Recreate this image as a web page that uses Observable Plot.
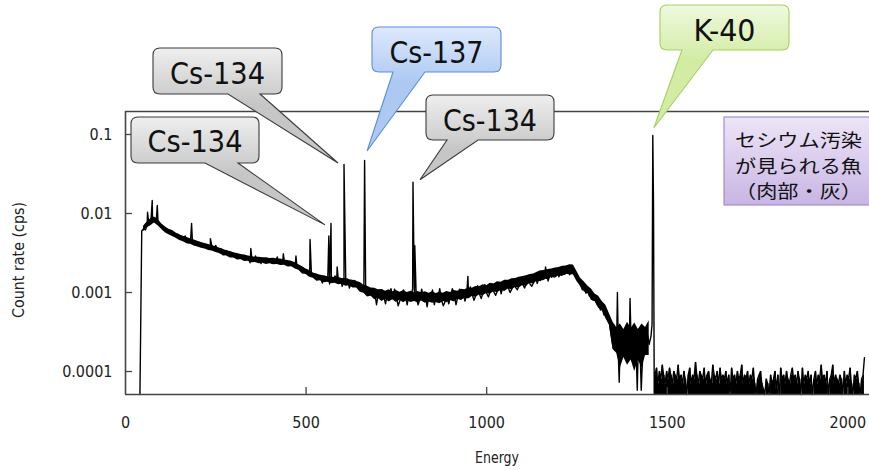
<!DOCTYPE html>
<html><head><meta charset="utf-8">
<script src="https://cdn.jsdelivr.net/npm/d3@7"></script>
<script src="https://cdn.jsdelivr.net/npm/@observablehq/plot@0.6"></script>
<style>
body{margin:0;background:#fff}
#chart{position:relative;width:869px;height:470px;overflow:hidden}
</style>
</head><body><div id="chart"></div>
<script>
// ---------- DATA ----------
const xTicks = [0, 500, 1000, 1500, 2000];
const xTickLabels = ["0", "500", "1000", "1500", "2000"];
const yTicks = [0.0001, 0.001, 0.01, 0.1];
const yTickLabels = ["0.0001", "0.001", "0.01", "0.1"];
const xTitle = "Energy";
const yTitle = "Count rate (cps)";

// continuum channels: energy start / step (keV), counts in units of 1e-5 cps
const contStartE = 40, contStepE = 5;
const contE5 = [
  0,600,640,620,700,720,760,800,830,790,
  800,720,700,620,660,600,600,545,590,540,
  520,545,490,500,460,520,450,425,445,470,
  420,400,415,430,385,372,405,365,380,352,
  372,345,395,334,330,355,300,305,340,298,
  312,286,300,280,284,296,270,268,286,262,
  274,238,268,250,290,246,272,232,262,268,
  258,242,256,238,254,236,282,234,248,232,
  244,228,242,224,234,218,222,206,208,194,
  196,180,184,168,174,160,164,154,158,150,
  150,132,160,142,146,128,152,138,162,148,
  132,150,120,140,128,148,114,136,122,142,
  124,118,126,104,116,106,102,96,104,92,
  100,70,97,85,108,90,72,98,86,112,
  84,110,87,68,80,95,108,90,70,96,
  85,112,80,88,70,82,110,84,96,66,
  90,82,108,70,88,86,112,80,68,77,
  92,72,90,112,95,70,88,110,84,96,
  78,99,88,118,94,80,92,122,96,84,
  100,126,98,88,104,128,102,92,106,134,
  96,120,110,140,114,100,112,146,116,108,
  124,154,126,114,130,160,128,120,134,168,
  130,154,176,146,150,184,140,166,156,192,
  164,200,158,182,210,170,176,214,168,194,
  186,176,152,136,124,108,116,98,106,90,
  90,80,84,72,70,60,62,52,55,44,
  40,28,20,30,24,14,26,17,28,15,
  30,22,22,15,30,12,24,17,10,26,
  20,30,22,28
];

// noise band: every 10 keV from 50 keV, low / high edge (1e-5 cps)
const bandStartE = 50, bandStepE = 10;
const bandLowE5 = [
  590,660,700,760,700,630,570,540,510,485,
  455,440,415,408,388,378,362,356,340,336,
  322,312,294,290,274,274,258,259,247,248,
  238,240,231,234,227,231,224,227,219,221,
  211,212,198,191,172,169,156,152,139,141,
  133,135,129,131,125,127,120,122,114,114,
  101,98,88,90,81,84,77,82,76,81,
  75,80,74,79,75,77,74,78,73,76,
  73,75,72,77,74,79,76,82,79,85,
  83,89,87,93,91,97,95,102,99,106,
  103,111,108,116,114,123,119,131,128,140,
  137,148,145,156,152,163,159,171,167,168,
  138,120,102,97,80,77,63,60,47,39,
  19,17,11,15,12,14,10,14,11,16,
  16
];
const bandHighE5 = [
  690,780,860,900,840,740,680,630,610,565,
  540,515,498,478,462,444,428,416,406,394,
  380,366,352,338,330,318,312,303,298,290,
  284,279,280,275,276,270,271,265,266,258,
  255,249,238,224,212,199,190,177,172,165,
  163,158,158,154,155,150,150,145,143,138,
  134,124,120,114,113,108,109,104,108,102,
  106,101,105,100,104,99,103,99,102,98,
  102,97,101,98,103,100,106,104,110,108,
  115,113,119,118,125,122,131,128,137,135,
  143,143,149,150,156,159,163,169,172,180,
  188,190,196,198,205,208,215,217,224,223,
  185,152,137,121,111,96,90,77,69,54,
  42,36,40,34,42,35,41,34,40,36,
  44
];

// photopeaks and spikes (keV, cps)
const peakE   = [61, 74, 88, 183, 235, 347, 437, 472, 511, 563, 569, 586, 605, 662, 796, 801, 948, 1163, 1362, 1367, 1397, 1417, 1428, 1458, 1460, 1462, 1464];
const peakCps = [0.0104, 0.0146, 0.0126, 0.0075, 0.0048, 0.0036, 0.0031, 0.0029, 0.0047, 0.0052, 0.0075, 0.0021, 0.0417, 0.0469, 0.0249, 0.0039, 0.0016, 0.0021, 0.00100, 0.000073, 0.00084, 0.000058, 0.000058, 0.0004, 0.097, 0.012, 0];

// channels above K-40: start / step (keV), counts in units of 1e-5 cps
const postStartE = 1466, postStepE = 4;
const postE5 = [
  9,11,7,10,8,12,9,7,10,8,11,9,7,10,9,8,
  12,8,9,7,10,8,0,9,11,7,9,8,13,9,7,10,
  9,8,11,7,9,10,8,7,12,9,8,10,7,11,8,9,
  8,10,7,9,0,11,8,9,7,10,8,9,12,7,9,8,
  10,7,9,8,11,7,0,8,9,10,7,6,0,8,7,0,
  9,7,8,10,6,9,0,11,8,9,7,10,8,7,9,11,
  8,9,7,10,8,0,11,7,9,8,10,7,9,0,8,10,
  7,9,8,12,8,9,7,10,0,8,9,12,7,9,8,7,
  9,8,0,10,7,9,8,11,7,0,9,8,10,7,0,8,
  9,15
];

// callouts
const calloutLabels = ["Cs-134", "Cs-134", "Cs-137", "Cs-134", "K-40"];
const calloutE      = [569, 605, 662, 796, 1460];
const calloutCps    = [0.0075, 0.0417, 0.0469, 0.0249, 0.097];
const calloutTheme  = ["gray", "gray", "blue", "gray", "green"];
const legendLines = ["セシウム汚染", "が見られる魚", "（肉部・灰）"];

// ---------- LAYOUT / STYLE ----------
const W = 869, H = 470, mL = 125, mT = 111, mB = 76, mR = 0;
const xDomain = [0, 2060];
const yDomain = [5.12e-5, 0.1954];
const frameColor = "#444";
const narrow = "'Liberation Sans Narrow','DejaVu Sans Condensed','Arial Narrow',sans-serif";
// pixel boxes: [x0,y0,x1,y1, wedgeBase0, wedgeBase1, tipDx, tipDy, textWidth, baseline]
const calloutBoxes = [
  [131,117,259,163, 205,238, -5.5, 2, 95, 152],
  [153, 48,282, 94, 228,260, -5.5,-1, 95,  84],
  [372, 27,501, 72, 393,425,  3,  -9, 94,  63],
  [426, 95,554,140, 447,478,  7.5,-2, 94, 131],
  [660,  5,789, 50, 682,713,  1.5,-7, 62,  41]
];
const themes = {
  gray:  {top:"#efefef", bottom:"#c6c6c6", stroke:"#3a3a3a"},
  blue:  {top:"#dde9fc", bottom:"#adc9f2", stroke:"#5b8ed8"},
  green: {top:"#eff9de", bottom:"#d2eca4", stroke:"#a3d163"}
};

// ---------- BUILD SERIES ----------
const floor = yDomain[0];
const spectrum = [];
contE5.forEach((v, i) => spectrum.push({E: contStartE + i * contStepE, v: v * 1e-5}));
peakE.forEach((e, i) => spectrum.push({E: e, v: peakCps[i]}));
postE5.forEach((v, i) => spectrum.push({E: postStartE + i * postStepE, v: v * 1e-5}));
spectrum.sort((a, b) => a.E - b.E);
spectrum.forEach(d => { d.v = Math.max(d.v, floor); });

const band = bandLowE5.map((lo, i) => ({E: bandStartE + i * bandStepE, lo: lo * 1e-5, hi: bandHighE5[i] * 1e-5}));
const post = postE5.map((v, i) => ({E: postStartE + i * postStepE, v: Math.max(v * 1e-5, floor)}));

const frameW = W - mL - mR, frameH = H - mT - mB;

const plot = Plot.plot({
  width: W, height: H,
  marginLeft: mL, marginTop: mT, marginBottom: mB, marginRight: mR,
  style: {background: "white", fontFamily: narrow, color: "#222", overflow: "visible"},
  x: {domain: xDomain},
  y: {type: "log", domain: yDomain},
  marks: [
    Plot.axisY(yTicks, {tickSize: 0, tickPadding: 13, fontSize: 16, label: null,
      tickFormat: d => yTickLabels[yTicks.indexOf(d)]}),
    Plot.axisX(xTicks, {tickSize: 0, tickPadding: 22, fontSize: 16, label: null,
      tickFormat: d => xTickLabels[xTicks.indexOf(d)]}),
    Plot.areaY(band, {x: "E", y1: "lo", y2: "hi", fill: "black"}),
    Plot.areaY(post, {x: "E", y1: floor, y2: "v", fill: "black", curve: "step-after"}),
    Plot.line(spectrum, {x: "E", y: "v", stroke: "black", strokeWidth: 1.4}),
    Plot.tickY(yTicks, {y: d => d, stroke: frameColor, strokeWidth: 1.3, insetRight: frameW - 7}),
    Plot.tickX(xTicks.slice(1), {x: d => d, stroke: frameColor, strokeWidth: 1.3, insetTop: frameH - 7}),
    Plot.ruleX([xDomain[0]], {stroke: frameColor, strokeWidth: 1.6}),
    Plot.ruleY([yDomain[0], yDomain[1]], {stroke: frameColor, strokeWidth: 1.6})
  ]
});
document.getElementById("chart").appendChild(plot);

// ---------- ANNOTATIONS ----------
const svg = d3.select(plot);
const sx = plot.scale("x"), sy = plot.scale("y");
const defs = svg.append("defs");
const g = svg.append("g");

// axis titles
svg.append("text").text(yTitle)
  .attr("transform", "translate(19,260) rotate(-90)")
  .attr("text-anchor", "middle").attr("dominant-baseline", "central")
  .attr("font-family", narrow).attr("font-size", 15).attr("fill", "#222")
  .attr("textLength", 116).attr("lengthAdjust", "spacingAndGlyphs");
svg.append("text").text(xTitle)
  .attr("x", 497).attr("y", 458)
  .attr("text-anchor", "middle").attr("dominant-baseline", "central")
  .attr("font-family", narrow).attr("font-size", 15).attr("fill", "#222")
  .attr("textLength", 44).attr("lengthAdjust", "spacingAndGlyphs");

// callout bubbles
calloutLabels.forEach((lab, i) => {
  const [x0, y0, x1, y1, b0, b1, tdx, tdy, tw, base] = calloutBoxes[i];
  const th = themes[calloutTheme[i]];
  const tx = sx.apply(calloutE[i]) + tdx, ty = sy.apply(calloutCps[i]) + tdy;
  const id = "grad" + i;
  const lg = defs.append("linearGradient").attr("id", id)
    .attr("gradientUnits", "userSpaceOnUse").attr("x1", 0).attr("x2", 0).attr("y1", y0).attr("y2", y1 + 10);
  lg.append("stop").attr("offset", 0).attr("stop-color", th.top);
  lg.append("stop").attr("offset", 1).attr("stop-color", th.bottom);
  const r = 7;
  const path = `M${x0 + r},${y0}H${x1 - r}Q${x1},${y0} ${x1},${y0 + r}V${y1 - r}Q${x1},${y1} ${x1 - r},${y1}` +
    `H${b1}L${tx},${ty}L${b0},${y1}H${x0 + r}Q${x0},${y1} ${x0},${y1 - r}V${y0 + r}Q${x0},${y0} ${x0 + r},${y0}Z`;
  g.append("path").attr("d", path).attr("fill", `url(#${id})`)
    .attr("stroke", th.stroke).attr("stroke-width", 1.1);
  g.append("text").text(lab)
    .attr("x", (x0 + x1) / 2).attr("y", base)
    .attr("text-anchor", "middle")
    .attr("font-family", narrow).attr("font-size", 31).attr("fill", "#111")
    .attr("textLength", tw).attr("lengthAdjust", "spacingAndGlyphs");
});

// legend box
const lgL = defs.append("linearGradient").attr("id", "legGrad")
  .attr("gradientUnits", "userSpaceOnUse").attr("x1", 0).attr("x2", 0).attr("y1", 117).attr("y2", 205);
lgL.append("stop").attr("offset", 0).attr("stop-color", "#ede5f7");
lgL.append("stop").attr("offset", 1).attr("stop-color", "#c8b5e4");
g.append("rect").attr("x", 724).attr("y", 117).attr("width", 150).attr("height", 88)
  .attr("fill", "url(#legGrad)").attr("stroke", "#9c86c8").attr("stroke-width", 1.1);
const legY = [139, 165, 190];
legendLines.forEach((t, i) => {
  g.append("text").text(t)
    .attr("x", 798.5).attr("y", legY[i])
    .attr("text-anchor", "middle").attr("dominant-baseline", "central")
    .attr("font-family", "'Noto Sans CJK JP',sans-serif").attr("font-size", 18).attr("fill", "#111")
    .attr("textLength", 127).attr("lengthAdjust", "spacingAndGlyphs");
});
</script>
</body></html>
